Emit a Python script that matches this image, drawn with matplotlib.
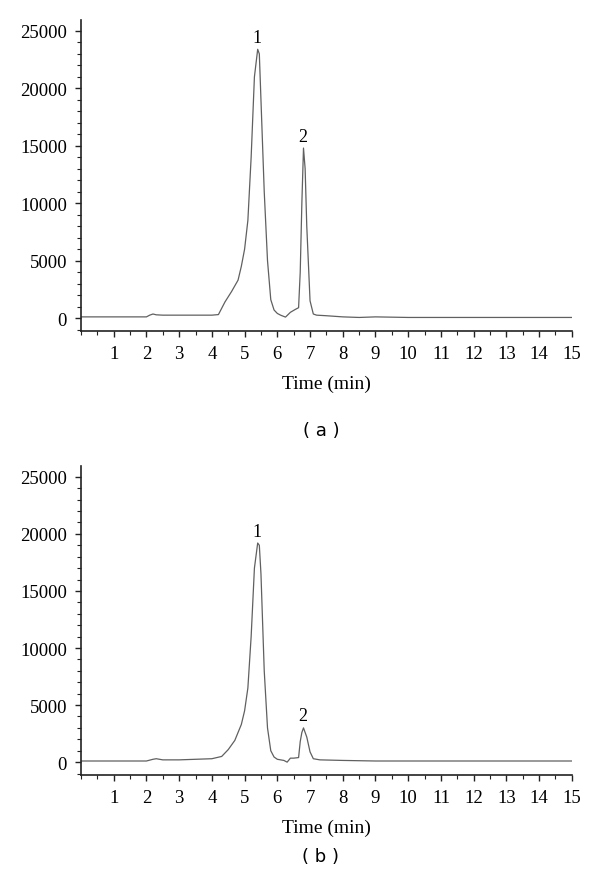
"""
HPLC chromatograms, panels (a) and (b).
"""
import matplotlib
matplotlib.use("Agg")
import matplotlib.pyplot as plt
from matplotlib.ticker import MultipleLocator

# retention time (min) and detector response
time_a = [0.0, 1.0, 2.0, 2.1, 2.2, 2.3, 2.5, 3.0, 3.5, 4.0, 4.2, 4.4, 4.6, 4.8,
          4.9, 5.0, 5.1, 5.2, 5.3, 5.4, 5.45, 5.5, 5.6, 5.7, 5.8, 5.9, 6.0,
          6.1, 6.25, 6.4, 6.55, 6.65, 6.7, 6.75, 6.8, 6.85, 6.9, 7.0, 7.1,
          7.2, 7.5, 8.0, 8.5, 9.0, 10.0, 12.0, 15.0]
resp_a = [100, 100, 100, 250, 350, 280, 250, 250, 250, 250, 300, 1400, 2300,
          3300, 4500, 6000, 8500, 14000, 21000, 23400, 23000, 19000, 11000,
          5000, 1600, 700, 400, 250, 80, 500, 750, 900, 4000, 10000, 14800,
          13000, 8000, 1500, 350, 250, 200, 100, 50, 100, 50, 50, 50]

time_b = [0.0, 1.0, 2.0, 2.2, 2.3, 2.5, 3.0, 3.5, 4.0, 4.3, 4.5, 4.7, 4.9,
          5.0, 5.1, 5.2, 5.3, 5.4, 5.45, 5.5, 5.6, 5.7, 5.8, 5.9, 6.0, 6.2,
          6.3, 6.4, 6.5, 6.65, 6.7, 6.75, 6.8, 6.9, 7.0, 7.1, 7.3, 8.0, 9.0,
          10.0, 12.0, 15.0]
resp_b = [100, 100, 100, 250, 300, 200, 200, 250, 300, 500, 1100, 1900, 3300,
          4500, 6500, 11000, 17000, 19200, 19000, 16500, 8000, 3000, 1000,
          450, 250, 150, 0, 350, 350, 400, 1800, 2600, 3000, 2200, 900, 300,
          200, 150, 100, 100, 100, 100]

peak_times = [5.4, 6.8]
peak_labels = ["1", "2"]
peak_heights_a = [23400, 14800]
peak_heights_b = [19200, 3000]

plt.rcParams["font.family"] = ["Liberation Serif", "DejaVu Serif"]

fig = plt.figure(figsize=(6.0, 8.87), dpi=100)
ax_a = fig.add_axes([0.135, 0.6257, 0.818, 0.3506])
ax_b = fig.add_axes([0.135, 0.1251, 0.818, 0.3484])

panels = [
    (ax_a, time_a, resp_a, peak_heights_a, "( a )", 0.514),
    (ax_b, time_b, resp_b, peak_heights_b, "( b )", 0.034),
]

for ax, t, r, heights, tag, tag_y in panels:
    ax.plot(t, r, color="#606060", linewidth=0.9)
    for pt, lab, h in zip(peak_times, peak_labels, heights):
        ax.text(pt - 0.02, h + 300, lab, ha="center", va="bottom", fontsize=13)

    ax.set_xlim(0, 15)
    ax.set_ylim(-1130, 25950)
    ax.xaxis.set_major_locator(MultipleLocator(1))
    ax.xaxis.set_minor_locator(MultipleLocator(0.5))
    ax.yaxis.set_major_locator(MultipleLocator(5000))
    ax.yaxis.set_minor_locator(MultipleLocator(1000))
    ax.set_xticks(range(1, 16))
    ax.set_xticklabels([str(i) for i in range(1, 16)])
    ax.tick_params(axis="both", which="major", labelsize=13.5, length=4,
                   width=1.0, color="#222222", pad=6)
    ax.tick_params(axis="both", which="minor", length=3, width=0.8,
                   color="#222222")
    for side in ("top", "right"):
        ax.spines[side].set_visible(False)
    for side in ("left", "bottom"):
        ax.spines[side].set_linewidth(1.2)
        ax.spines[side].set_color("#222222")
    ax.set_xlabel("Time (min)", fontsize=14, labelpad=9)

    fig.text(0.535, tag_y, tag, ha="center", va="center", fontsize=13,
             family="DejaVu Sans")

fig.savefig("out.png", dpi=100)
